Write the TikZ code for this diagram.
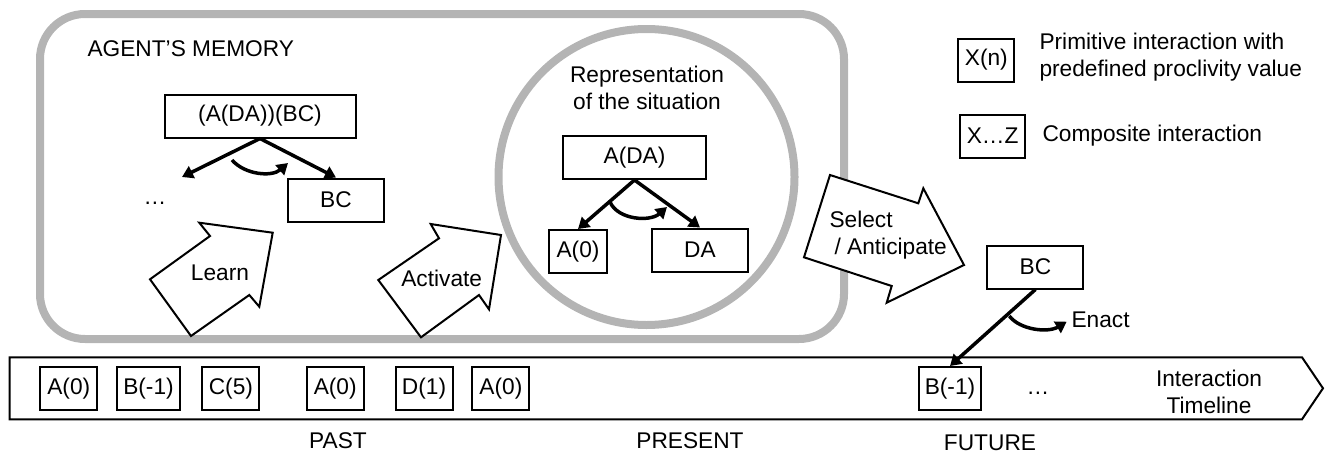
\documentclass[tikz,border=0pt]{standalone}
\usepackage{fontspec}
\setmainfont{Liberation Sans}
\usetikzlibrary{arrows.meta}
\definecolor{memgray}{RGB}{180,180,180}

\begin{document}
\begin{tikzpicture}[x=1pt,y=-1pt,font=\fontsize{22.7}{27}\selectfont,
	box/.style={draw,line width=2pt,minimum height=43pt,inner xsep=6pt},
	memline/.style={draw=memgray,line width=8pt},
	link/.style={line width=3.5pt,-{Triangle[length=11pt,width=13pt]}},
	bigarrow/.style={draw,fill=white,line width=2pt,line join=miter}]
\useasboundingbox (0,0) rectangle (1325,455);
\draw[memline,rounded corners=45pt] (40,14) rectangle (844,339);
\draw[memline] (646.5,177) circle (148);
\node[anchor=west] (memtitle) at (84,49) {AGENT’S MEMORY};
\node[box,minimum width=191pt] (mtop) at (260,116) {(A(DA))(BC)};
\node[box,minimum width=96pt] (mbc) at (336,200) {BC};
\node (mdots) at (155,203) {…};
\coordinate (mleft) at (182,177);
\draw[link] (mtop.south) -- (mleft);
\draw[link] (mtop.south) -- (mbc.north);
\draw[link] (232,160) .. controls (245,175) and (272,177) .. (288,163);
\node[align=center] (sittitle) at (647,87.5) {Representation\\of the situation};
\node[box,minimum width=143pt] (sada) at (634.5,157.5) {A(DA)};
\node[box,minimum width=58pt] (sa0) at (578,251.5) {A(0)};
\node[box,minimum width=96pt] (sda) at (700,250) {DA};
\draw[link] (sada.south) -- (sa0.north);
\draw[link] (sada.south) -- (sda.north);
\draw[link] (610,202) .. controls (618,220) and (650,222) .. (667,207);
\draw[bigarrow] (150,279.3) -- (191,336) -- (249.3,295) -- (259.3,306.7) -- (272.7,232.7) -- (199.3,222.7) -- (210,236) -- cycle;
\node (learn) at (220,273) {Learn};
\draw[bigarrow] (378.3,280) -- (421,337.3) -- (479,295) -- (489,309.3) -- (501,235) -- (430.7,224) -- (439,238.3) -- cycle;
\node (activate) at (441.7,278.3) {Activate};
\draw[bigarrow] (830,175) -- (804,257.3) -- (891.7,286) -- (886.7,302.7) -- (964,265) -- (923.3,188.3) -- (918.3,203.3) -- cycle;
\node[align=left,anchor=west] (select) at (826,235) {Select\\\hspace{5pt}/ Anticipate};
\draw[line width=2pt] (9.5,357.3) -- (1302,357.3) -- (1323,388.3) -- (1302,419.3) -- (9.5,419.3) -- cycle;
\foreach \x/\lbl/\nm in {68.8/A(0)/ta, 148.5/B(-1)/tb, 230.9/C(5)/tc, 335.2/A(0)/td, 424/D(1)/te, 500.9/A(0)/tf, 950/B(-1)/tg}
	\node[box,minimum width=57pt] (\nm) at (\x,388.5) {\lbl};
\node (tdots) at (1038,393) {…};
\node[align=center] (timeline) at (1209,391.7) {Interaction\\Timeline};
\node[box,minimum width=96pt] (fbc) at (1035.4,267) {BC};
\draw[link] (fbc.south) -- (tg.north);
\draw[link] (1009.3,316) .. controls (1020,330) and (1048,333) .. (1066.7,321.7);
\node[anchor=west] (enact) at (1068,319.5) {Enact};
\node[box,minimum width=56pt] (lxn) at (986.3,60) {X(n)};
\node[anchor=west,align=left] (lxntext) at (1036,57) {Primitive interaction with\\predefined proclivity value};
\node[box,minimum width=65pt] (lxz) at (992.7,136) {X…Z};
\node[anchor=west] (lxztext) at (1039,136) {Composite interaction};
\node (past) at (338,441) {PAST};
\node (present) at (690,441) {PRESENT};
\node (future) at (990,443) {FUTURE};
\end{tikzpicture}
\end{document}
